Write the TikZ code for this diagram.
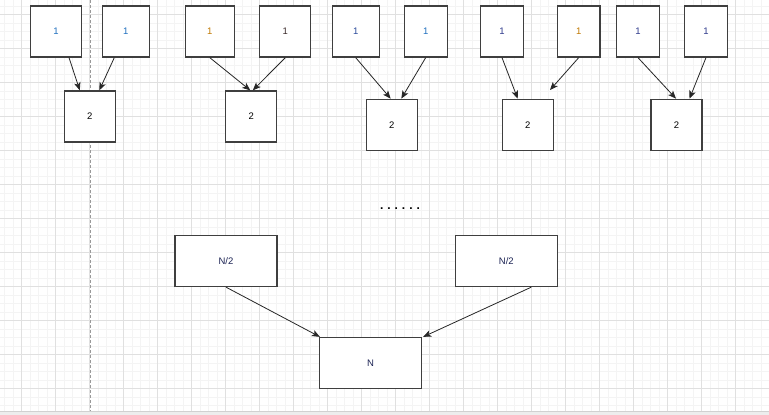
\documentclass[tikz,border=0pt]{standalone}
\usepackage{fontspec}
\setmainfont{Liberation Sans}
\newfontfamily\dotfont[LetterSpace=33]{Liberation Sans}
\usetikzlibrary{arrows.meta}
\definecolor{tblue}{HTML}{1F6FBF}
\definecolor{torange}{HTML}{C07800}
\definecolor{tdark}{HTML}{3A2A2A}
\definecolor{tnavy}{HTML}{2E3A8C}
\definecolor{boxline}{HTML}{3F3F3F}
\definecolor{gridminor}{HTML}{F4F4F4}
\definecolor{gridmajor}{HTML}{E0E0E0}
\tikzset{
  box/.style={draw=boxline, line width=1.3pt, fill=white, minimum height=51pt,
    inner sep=0pt, font=\fontsize{9.5}{11}\selectfont, text=black},
  conn/.style={draw=black!85, line width=0.8pt, -{Stealth[length=8pt,width=6.5pt,inset=2pt]}},
}
\begin{document}
\begin{tikzpicture}[x=1pt,y=-1pt]
\useasboundingbox (0,0) rectangle (769,415);
\fill[white] (0,0) rectangle (769,415);
% minor grid
\foreach \i in {0,...,91} {\draw[gridminor, line width=0.6pt] ({4.3+8.5*\i},0) -- ({4.3+8.5*\i},410.5);}
\foreach \j in {0,...,48} {\draw[gridminor, line width=0.6pt] (0,{5.8+8.5*\j}) -- (769,{5.8+8.5*\j});}
% major grid
\foreach \i in {0,...,22} {\draw[gridmajor, line width=0.7pt] ({21.3+34*\i},0) -- ({21.3+34*\i},410.5);}
\foreach \j in {0,...,11} {\draw[gridmajor, line width=0.7pt] (0,{14.3+34*\j}) -- (769,{14.3+34*\j});}
% bottom strip
\fill[black!7] (0,410.5) rectangle (769,415);
\draw[black!18, line width=0.8pt] (0,411) -- (769,411);
% dashed divider
\draw[black!40, line width=0.8pt, dash pattern=on 3pt off 2pt] (90,0) -- (90,410.5);

% group A
\node[box, minimum width=51pt, text=tblue] (A1) at (56,31.5) {1};
\node[box, minimum width=47pt, text=tblue] (A2) at (125.8,31.5) {1};
\node[box, minimum width=51pt] (A3) at (89.8,116.5) {2};
% group B
\node[box, minimum width=49pt, text=torange] (B1) at (209.8,31.5) {1};
\node[box, minimum width=51pt, text=tdark] (B2) at (285.3,31.5) {1};
\node[box, minimum width=51pt] (B3) at (251.3,116.5) {2};
% group C
\node[box, minimum width=47pt, text=tnavy!70!tblue] (C1) at (355.7,31.5) {1};
\node[box, minimum width=43pt, text=tblue] (C2) at (425.7,31.5) {1};
\node[box, minimum width=51pt] (C3) at (391.7,124.8) {2};
% group D
\node[box, minimum width=42.6pt, text=tnavy] (D1) at (502,31.5) {1};
\node[box, minimum width=42.6pt, text=torange] (D2) at (578.7,31.5) {1};
\node[box, minimum width=51pt] (D3) at (527.7,124.8) {2};
\coordinate (Dfree) at (550,90);
% group E
\node[box, minimum width=42.6pt, text=tnavy] (E1) at (638,31.5) {1};
\node[box, minimum width=42.6pt, text=tnavy] (E2) at (706,31.5) {1};
\node[box, minimum width=51pt] (E3) at (676.5,124.8) {2};
% ellipsis
\node[font=\dotfont\fontsize{12}{14}\selectfont\bfseries, text=black, anchor=base, inner sep=0pt] (dots) at (400,209) {......};
% bottom
\node[box, minimum width=102pt, text=tnavy!60!black] (F1) at (226,261) {N/2};
\node[box, minimum width=102pt, text=tnavy!60!black] (F2) at (506.3,261) {N/2};
\node[box, minimum width=102pt, text=tnavy!60!black] (G) at (370.5,363) {N};

% connectors
\draw[conn] ([xshift=13pt]A1.south) -- ([xshift=-10pt]A3.north);
\draw[conn] ([xshift=-11.5pt]A2.south) -- ([xshift=9.5pt]A3.north);
\draw[conn] (B1.south) -- ([xshift=-1pt]B3.north);
\draw[conn] (B2.south) -- ([xshift=1.5pt]B3.north);
\draw[conn] (C1.south) -- ([xshift=-1pt]C3.north);
\draw[conn] (C2.south) -- ([xshift=9.6pt]C3.north);
\draw[conn] (D1.south) -- ([xshift=-10pt]D3.north);
\draw[conn] (D2.south) -- (Dfree);
\draw[conn] (E1.south) -- ([xshift=-0.5pt]E3.north);
\draw[conn] (E2.south) -- ([xshift=13pt]E3.north);
\draw[conn] (F1.south) -- ([xshift=1pt]G.north west);
\draw[conn] ([xshift=25pt]F2.south) -- ([xshift=1pt]G.north east);
\end{tikzpicture}
\end{document}
